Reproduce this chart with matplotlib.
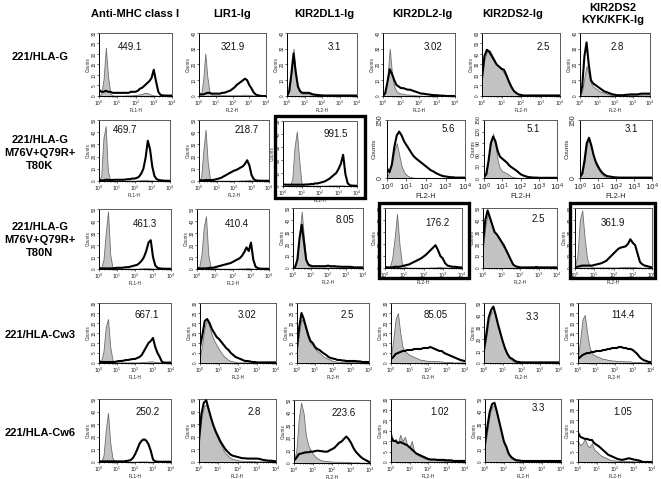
import matplotlib
matplotlib.use("Agg")
import matplotlib.pyplot as plt
from matplotlib.patches import Rectangle
from matplotlib.ticker import FixedLocator, LogLocator, NullFormatter

plt.rcParams['font.family'] = ['Liberation Sans', 'DejaVu Sans']

# ---------------- data ----------------
col_headers = ["Anti-MHC class I", "LIR1-Ig", "KIR2DL1-Ig", "KIR2DL2-Ig",
               "KIR2DS2-Ig", "KIR2DS2\nKYK/KFK-Ig"]
row_labels = ["221/HLA-G", "221/HLA-G\nM76V+Q79R+\nT80K", "221/HLA-G\nM76V+Q79R+\nT80N",
              "221/HLA-Cw3", "221/HLA-Cw6"]
x_labels = ["FL1-H", "FL2-H", "FL2-H", "FL2-H", "FL2-H", "FL2-H"]

mfi_r1 = ["449.1", "321.9", "3.1", "3.02", "2.5", "2.8"]
mfi_r2 = ["469.7", "218.7", "991.5", "5.6", "5.1", "3.1"]
mfi_r3 = ["461.3", "410.4", "8.05", "176.2", "2.5", "361.9"]
mfi_r4 = ["667.1", "3.02", "2.5", "85.05", "3.3", "114.4"]
mfi_r5 = ["250.2", "2.8", "223.6", "1.02", "3.3", "1.05"]

ymax_r1 = [30, 40, 40, 40, 60, 40]
ymax_r2 = [50, 50, 50, 150, 150, 150]
ymax_r3 = [50, 50, 50, 50, 50, 50]
ymax_r4 = [30, 30, 30, 30, 50, 30]
ymax_r5 = [50, 50, 50, 30, 50, 30]
ystep_r1 = [5, 10, 10, 10, 10, 10]
ystep_r2 = [10, 10, 10, 150, 30, 150]
ystep_r3 = [10, 10, 10, 10, 10, 10]
ystep_r4 = [5, 5, 5, 5, 10, 5]
ystep_r5 = [10, 10, 10, 5, 10, 5]

# log10 fluorescence channel positions of the histogram values
log_channels = [0, 0.125, 0.25, 0.375, 0.5, 0.625, 0.75, 0.875,
                1.0, 1.125, 1.25, 1.375, 1.5, 1.625, 1.75, 1.875,
                2.0, 2.125, 2.25, 2.375, 2.5, 2.625, 2.75, 2.875,
                3.0, 3.125, 3.25, 3.375, 3.5, 3.625, 3.75, 3.875, 4.0]

# control (grey filled) and stained (black line) histograms, row/column
g11 = [0,1,8,23,9,1,0.3,0.2, 0.2,0.2,0.2,0.2,0.3,0.3,0.3,0.4, 0.5,0.6,0.8,1,1.5,1.5,1,0.5, 0.3,0.2,0,0,0,0,0,0, 0]
b11 = [3,2,2,2.5,2,2,1.5,1.5, 1.5,1.5,1.5,1.5,1.5,1.5,2,2, 2,2.5,3.5,4,5,6,7,8.5, 12.5,7,2,0.5,0.3,0.2,0.2,0.2, 0.2]
g12 = [0,1,10,27,12,3,1,0.5, 0.5,0.5,0.5,0.5,0.5,0.5,0.5,0.5, 0.5,0.5,0.5,0.5,0.5,0.8,0.8,0.8, 0.5,0.5,0.3,0.2,0.2,0.2,0,0, 0]
b12 = [1.5,1,1,1.5,2,2,1.5,1.5, 1.5,1.5,1.5,2,2,2.5,3,3.5, 4.5,5.5,7,8,9,10,11,10, 7,5,2.5,1,0.5,0.2,0,0, 0]
g13 = [0,3,15,30,14,5,2.5,1.5, 1.5,1.5,1.5,1,0.8,0.5,0.4,0.3, 0.2,0.2,0.2,0.2,0.2,0.2,0.2,0.2, 0.2,0.2,0.2,0,0,0,0,0, 0]
b13 = [0,3,14,27,15,6,3,2, 2,2,2,1.5,1,0.8,0.6,0.5, 0.4,0.3,0.3,0.3,0.3,0.3,0.3,0.3, 0.3,0.3,0.3,0.3,0.3,0.3,0.3,0.3, 0.3]
g14 = [0,2,12,30,14,6,3,2, 1.5,1.5,1,1,0.8,0.6,0.5,0.4, 0.3,0.2,0.2,0.1,0.1,0.1,0.1,0.1, 0,0,0,0,0,0,0,0, 0]
b14 = [0,2,9,17,14,10,7,6, 5,5,4.5,4,4,3.5,3,2.5, 2,1.5,1.5,1.2,1,0.8,0.6,0.5, 0.5,0.3,0.2,0.2,0,0,0,0, 0]
g15 = [15,35,42,44,40,35,30,28, 25,22,18,12,8,5,3,1.5, 1,0.5,0.5,0.3,0.3,0.3,0.3,0.3, 0.3,0.3,0.3,0.3,0.3,0.3,0.3,0.3, 0.3]
b15 = [18,38,44,42,38,34,30,28, 26,25,20,14,9,5,3,1.5, 1,0.5,0.5,0.5,0.5,0.5,0.5,0.5, 0.5,0.5,0.5,0.5,0.5,0.5,0.5,0.5, 0.5]
g16 = [0,3,12,19,14,8,6,5, 4,3,2.5,2,1.5,1,0.8,0.5, 0.3,0.3,0.3,0.3,0.3,0.5,0.5,0.5, 0.5,0.8,0.8,0.8,0.8,1,1,1, 1]
b16 = [0,6,25,34,20,10,8,7, 6,5,4,3,2.5,2,1.5,1, 0.8,0.5,0.5,0.5,0.5,0.8,0.8,1, 1,1,1,1.2,1.5,1.5,1.5,1.5, 1.5]

g21 = [0,4,35,45,8,1,0.5,0.3, 0.3,0.3,0.3,0.3,0.3,0.3,0.3,0.3, 0.3,0.5,0.5,0.8,1,1,0.8,0.5, 0.5,0.3,0.3,0.2,0.2,0,0,0, 0]
b21 = [1,0.5,0.5,1,1,0.8,0.8,1, 1,1,1,1,1.2,1.5,1.5,2, 2,2.5,3.5,6,10,19,33,26, 12,4,1.5,0.8,0.5,0.3,0.2,0.2, 0.2]
g22 = [0,3,25,42,15,2,0.5,0.3, 0.3,0.3,0.3,0.3,0.3,0.3,0.3,0.3, 0.3,0.3,0.3,0.5,0.5,0.5,0.8,0.8, 0.5,0.3,0.3,0.2,0.2,0,0,0, 0]
b22 = [1,0.5,0.5,0.8,0.8,0.8,0.8,1, 1.5,2,2.5,3.5,4.5,5.5,6.5,7.5, 8.5,9,10,11,12,14,17,13, 5,1.5,0.5,0.3,0.2,0.2,0.2,0.2, 0.2]
g23 = [0,0,0,0.5,5,30,42,20, 2,0.5,0.3,0.3,0.3,0.3,0.3,0.3, 0.3,0.3,0.3,0.3,0.5,0.5,0.5,0.5, 0.5,0.5,0.5,0.3,0.2,0,0,0, 0]
b23 = [1.5,1,1,1,1,1,1,1, 1,1,1.2,1.2,1.5,1.5,2,2, 2.5,3,3.5,4.5,5.5,7,8.5,10, 13,17,24,9,2,0.5,0.3,0.2, 0.2]
g24 = [5,15,40,70,90,60,30,15, 8,4,2,1,0.5,0.5,0.5,0.5, 0.5,0.5,0.3,0.3,0.3,0.3,0.3,0.3, 0.3,0.3,0.3,0.3,0.3,0.3,0.3,0.3, 0.3]
b24 = [25,15,35,80,110,120,110,95, 85,75,65,56,50,45,40,35, 30,25,20,17,13,10,7,5, 4,3,2,2,1,1,1,1, 1]
g25 = [2,10,50,95,115,85,45,25, 18,15,12,8,4,2,1,0.5, 0.5,0.5,0.5,0.5,0.5,0.5,0.5,0.5, 0.5,0.5,0.5,0.5,0.5,0.5,0.5,0.5, 0.5]
b25 = [2,10,45,90,107,95,70,55, 50,45,40,33,28,24,20,15, 10,7,5,3,2,1.5,1,1, 0.5,0.5,0.5,0.5,0.5,0.5,0.5,0.5, 0.5]
g26 = [2,10,40,85,100,80,55,35, 25,15,8,4,2,1,0.5,0.5, 0.5,0.5,0.5,0.5,0.5,0.5,0.5,0.5, 0.5,0.5,0.5,0.5,0.5,0.5,0.5,0.5, 0.5]
b26 = [3,12,45,90,104,85,60,42, 30,20,13,8,5,4,3,2, 1.5,1.2,1,1,1,1,1,1, 1,1,1,1,1,1,1,1, 1]

g31 = [0,1,8,30,48,12,1.5,0.5, 0.3,0.3,0.3,0.3,0.3,0.3,0.3,0.3, 0.3,0.3,0.5,0.5,0.8,0.8,0.8,0.5, 0.5,0.3,0.2,0.2,0,0,0,0, 0]
b31 = [1,0.5,0.5,0.5,0.5,0.5,0.5,0.8, 1,1,1,1.2,1.5,1.5,2,2.5, 3,3.5,5,7,10,15,22,24, 10,3,1,0.5,0.3,0.2,0.2,0.2, 0.2]
g32 = [0,2,12,35,44,12,2,1, 0.8,0.5,0.3,0.3,0.3,0.3,0.3,0.3, 0.3,0.3,0.3,0.5,0.5,0.5,0.8,0.8, 0.5,0.3,0.3,0.2,0.2,0,0,0, 0]
b32 = [1,0.5,0.5,0.5,0.5,0.8,1,1, 1.5,2,2.5,3,3.5,4,4.5,5, 6,7,8,9,11,14,18,15, 22,8,2,0.8,0.3,0.2,0.2,0.2, 0.2]
g33 = [0,1,8,30,47,25,6,2, 1,0.5,0.5,0.5,0.5,0.5,0.5,0.5, 0.5,0.5,0.5,0.5,0.5,0.5,0.5,0.5, 0.5,0.5,0.5,0.3,0.3,0.3,0.3,0.3, 0.3]
b33 = [0,1,7,25,36,22,7,3, 2,1.5,1.5,1.5,1.5,1.5,1.5,1.5, 2,1.5,1.5,1.5,1.2,1.2,1,1, 1,1,1,0.8,0.5,0.5,0.5,0.5, 0.5]
g34 = [0,0,1,8,25,45,20,4, 1,0.5,0.3,0.3,0.3,0.3,0.3,0.3, 0.3,0.3,0.3,0.5,0.5,0.5,0.8,0.8, 0.5,0.5,0.3,0.3,0.2,0,0,0, 0]
b34 = [1,0.5,0.5,0.5,1,1,1,1.5, 2,2.5,3,4,5,6,7,8, 9.5,11,13,15,17,19,15,10, 8,4,2,1.5,1,1,0.8,0.5, 0.5]
g35 = [15,35,45,40,35,30,27,24, 20,17,14,10,6,3,1.5,0.5, 0.3,0.3,0.3,0.3,0.3,0.3,0.3,0.3, 0.3,0.3,0.3,0.3,0.3,0.3,0.3,0.3, 0.3]
b35 = [20,40,48,42,36,30,28,25, 22,19,15,11,7,3,1.5,1, 0.5,0.5,0.5,0.5,0.5,0.5,0.5,0.8, 0.5,0.5,0.5,0.5,0.5,0.5,0.5,0.5, 0.5]
g36 = [2,10,40,48,25,8,2,1, 0.5,0.5,0.5,0.5,0.5,0.5,0.5,0.5, 0.5,0.5,0.5,0.8,0.8,0.8,1,1, 0.8,0.8,0.5,0.5,0.3,0.3,0.3,0.3, 0.3]
b36 = [1,1,1.5,2,2,2,2,2, 2.5,3,3.5,4,5,6,8,10, 12,14,16,17,17.5,18,20,24, 21,19,12,5,3,2,1.5,1, 0.5]

g41 = [0,1,6,18,22,8,1.5,0.5, 0.3,0.3,0.3,0.3,0.3,0.3,0.3,0.3, 0.3,0.3,0.3,0.5,0.5,0.5,0.8,0.8, 0.8,0.5,0.5,0.3,0.2,0,0,0, 0]
b41 = [1,0.5,0.5,0.5,0.5,0.5,0.5,0.5, 0.8,1,1,1.2,1.5,1.5,1.8,2, 2,2.5,3,4,6,8,10,11, 12.5,8,5,3,0.5,0.2,0.2,0.2, 0.2]
g42 = [3,10,18,22,18,14,11,9, 7,5,3.5,2.5,1.5,1,0.8,0.5, 0.3,0.3,0.3,0.3,0.3,0.3,0.3,0.3, 0.3,0.3,0.3,0.3,0.3,0.3,0.3,0.3, 0.3]
b42 = [8,14,21,22,20,17,15,13, 12,10.5,9,7.5,6.5,5,4,3, 2.5,2,1.5,1,1,0.8,0.5,0.5, 0.3,0.3,0.3,0.3,0.3,0.3,0.3,0.3, 0.3]
g43 = [6,15,22,20,16,12,10,9, 7,6,5,4,3,2.5,2,1.5, 1,0.8,0.5,0.5,0.5,0.5,0.5,0.5, 0.5,0.5,0.5,0.5,0.5,0.5,0.5,0.5, 0.5]
b43 = [8,18,25,22,18,14,11,10, 8,7,6.5,5.5,4.7,4,3,2.5, 2.2,2,1.5,1.5,1.3,1.2,1,1, 1,1,1,0.8,0.8,0.5,0.5,0.5, 0.5]
g44 = [3,12,22,25,15,8,6,5, 4,3.5,3,2.5,2,1.5,1.5,1.2, 1,1,1,1,1,0.8,0.8,0.5, 0.5,0.5,0.5,0.3,0.3,0.3,0.3,0.3, 0.3]
b44 = [2,3,4.5,5,5.5,6,6,6.5, 6.5,6.5,7,7,7,7,7.5,7.5, 7.5,8,7.5,7,6.5,6,6,5, 4.5,4,3.5,3,2.5,2,1.5,1.2, 1]
g45 = [10,22,35,42,44,38,30,24, 17,12,7,4,2,1,0.5,0.3, 0.3,0.3,0.3,0.3,0.3,0.3,0.3,0.3, 0.3,0.3,0.3,0.3,0.3,0.3,0.3,0.3, 0.3]
b45 = [11,24,38,44,47,40,32,25, 18,12,7.5,4.5,3.5,2,1,0.8, 0.5,0.5,0.5,0.5,0.5,0.5,0.5,0.5, 0.5,0.5,0.5,0.5,0.5,0.5,0.5,0.5, 0.5]
g46 = [3,12,22,24,15,8,5,4, 3.5,3,2.5,2,2,1.5,1.5,1.2, 1.2,1,1,1,1,0.8,0.8,0.8, 0.5,0.5,0.5,0.5,0.3,0.3,0.3,0.3, 0.3]
b46 = [2,3,4,4.5,5,5,5.5,5.5, 6,6,6,6.5,6.5,7,7,7.5, 7.5,7.5,8,8,7.5,7.5,7,7, 6.5,5.5,4.5,3,2,1.3,1,0.5, 0.5]

g51 = [0,0.5,5,25,39,15,3,0.5, 0.3,0.3,0.3,0.3,0.3,0.3,0.3,0.3, 0.3,0.3,0.5,0.5,0.5,0.5,0.3,0.3, 0.3,0.2,0.2,0,0,0,0,0, 0]
b51 = [0.5,0.5,0.5,0.5,0.5,0.5,0.5,0.5, 0.5,0.5,0.5,0.5,0.8,1,1.5,3, 6,10,14.5,17,18,17,14,9, 2,0.5,0.3,0.2,0.2,0.2,0.2,0.2, 0.2]
g52 = [15,35,44,46,40,33,27,22, 18,14,10,7,5,3.5,2.5,2, 1.5,1,1,0.8,0.8,0.8,0.8,0.8, 0.5,0.5,0.5,0.5,0.5,0.5,0.5,0.5, 0.5]
b52 = [18,38,47,49,42,35,29,24, 20,16,13,10,8,6,5,4.5, 4,3.5,3,3,2.7,2.7,2.7,2.7, 2.7,2.5,2,1.5,1.3,1,1,0.8, 0.5]
g53 = [2,10,35,48,40,22,14,10, 7,5,3.6,2.5,2,1.5,1.5,1.2, 1.2,1,1,1,1,0.8,0.8,0.8, 0.5,0.5,0.5,0.5,0.3,0.3,0.3,0.3, 0.3]
b53 = [2,4,7,7.5,8,8.5,8.5,9, 9,9.5,9.8,9.5,9.3,9,9,10, 11,12,14,16,17,19,21,19, 16,12,9,7,5,3.5,2.5,1.5, 0.5]
g54 = [14,10,11,9,13,10,12,8, 7,10,5,4,3,2.5,2,1.5, 1.2,1,1,0.8,0.8,0.8,0.5,0.5, 0.5,0.5,0.5,0.3,0.3,0.3,0.3,0.3, 0.3]
b54 = [12,10,10,9,9.5,9,8.5,8, 7,6,5,4,3.5,3,2.5,2, 1.5,1.2,1.2,1.2,1,1,1,1, 0.8,0.8,0.8,0.5,0.5,0.5,0.5,0.5, 0.5]
g55 = [12,25,38,44,45,38,30,22, 15,10,6,3,2,1,0.8,0.5, 0.5,0.5,0.5,0.5,0.5,0.5,0.5,0.5, 0.5,0.5,0.5,0.5,0.5,0.5,0.5,0.5, 0.5]
b55 = [15,28,40,46,47,40,32,24, 16,12,6.5,4,2.6,1.5,1.3,1, 0.8,0.8,0.8,0.8,0.8,0.8,0.8,0.8, 0.8,0.8,0.8,0.8,0.8,0.8,0.8,0.8, 0.8]
g56 = [10,8,9,11,8,7,9,6, 5,4,3,2.5,2,1.5,1,0.8, 0.8,0.5,0.5,0.5,0.5,0.5,0.5,0.5, 0.3,0.3,0.3,0.3,0,0,0,0, 0]
b56 = [14,12,11.5,11,11,10.5,10.5,9, 8.2,7.5,6.5,5.5,4.5,3.5,3,2.5, 2,1.5,1.2,1,1.2,1.5,1.8,1.5, 1.2,1,0.8,0.5,0,0,0,0, 0]

ctrl = [[g11, g12, g13, g14, g15, g16],
        [g21, g22, g23, g24, g25, g26],
        [g31, g32, g33, g34, g35, g36],
        [g41, g42, g43, g44, g45, g46],
        [g51, g52, g53, g54, g55, g56]]
stain = [[b11, b12, b13, b14, b15, b16],
         [b21, b22, b23, b24, b25, b26],
         [b31, b32, b33, b34, b35, b36],
         [b41, b42, b43, b44, b45, b46],
         [b51, b52, b53, b54, b55, b56]]
mfis = [mfi_r1, mfi_r2, mfi_r3, mfi_r4, mfi_r5]
ymaxs = [ymax_r1, ymax_r2, ymax_r3, ymax_r4, ymax_r5]
ysteps = [ystep_r1, ystep_r2, ystep_r3, ystep_r4, ystep_r5]

# ---------------- layout (pixels) ----------------
W, H = 661, 479
boxes = [
    [(99, 33, 172, 96), (199, 33, 266, 96), (287, 33, 357, 96), (383, 33, 455, 96), (482, 33, 560, 96), (580, 33, 650, 96)],
    [(99, 120, 170, 181), (199, 120, 269, 181), (283, 121, 357, 186), (387, 120, 465, 178), (484, 120, 557, 178), (580, 120, 652, 178)],
    [(99, 209, 171, 269), (197, 209, 269, 269), (293, 208, 363, 268), (385, 208, 462, 268), (483, 208, 557, 268), (575, 208, 652, 268)],
    [(99, 303, 171, 363), (200, 303, 276, 363), (297, 303, 369, 363), (391, 303, 465, 363), (484, 303, 559, 363), (578, 303, 651, 363)],
    [(99, 399, 171, 462), (199, 399, 276, 462), (294, 400, 370, 463), (391, 399, 465, 462), (485, 399, 561, 462), (578, 399, 652, 462)],
]
mfi_pos = [
    [(0.43, 0.78), (0.50, 0.78), (0.68, 0.78), (0.69, 0.78), (0.78, 0.78), (0.53, 0.78)],
    [(0.37, 0.84), (0.68, 0.84), (0.71, 0.80), (0.78, 0.84), (0.68, 0.84), (0.72, 0.84)],
    [(0.64, 0.75), (0.55, 0.75), (0.74, 0.80), (0.68, 0.75), (0.74, 0.82), (0.49, 0.75)],
    [(0.66, 0.80), (0.62, 0.80), (0.70, 0.80), (0.60, 0.80), (0.64, 0.77), (0.62, 0.80)],
    [(0.68, 0.79), (0.72, 0.79), (0.66, 0.79), (0.66, 0.79), (0.70, 0.86), (0.61, 0.79)],
]
thick_frames = [(275, 116, 365, 198), (379, 203, 469, 278), (570, 203, 655, 278)]
big_font = {(1, 3): 5.0, (1, 4): 3.8, (1, 5): 5.0}

fig = plt.figure(figsize=(W / 100, H / 100), dpi=100)

xs = [10 ** v for v in log_channels]

for r in range(5):
    for c in range(6):
        x0, y0, x1, y1 = boxes[r][c]
        ax = fig.add_axes([x0 / W, 1 - y1 / H, (x1 - x0) / W, (y1 - y0) / H])
        big = (r, c) in big_font
        ax.fill_between(xs, 0, ctrl[r][c], facecolor='#c2c2c2', edgecolor='#6e6e6e', lw=0.6, zorder=2)
        ax.plot(xs, stain[r][c], color='black', lw=1.5, zorder=3)
        ax.set_xscale('log')
        ax.set_xlim(1, 1e4)
        ymax = ymaxs[r][c]
        step = ysteps[r][c]
        ax.set_ylim(0, ymax)
        ax.yaxis.set_major_locator(FixedLocator(list(range(0, ymax + 1, step))))
        ax.xaxis.set_major_locator(FixedLocator([1, 10, 100, 1000, 10000]))
        ax.xaxis.set_minor_locator(LogLocator(base=10, subs=range(2, 10)))
        ax.xaxis.set_minor_formatter(NullFormatter())
        ax.set_xticklabels(['$10^{0}$', '$10^{1}$', '$10^{2}$', '$10^{3}$', '$10^{4}$'])
        xfs = 5.3 if big else 3.3
        yfs = big_font[(r, c)] if big else 3.3
        ax.tick_params(axis='x', which='major', labelsize=xfs, length=1.8 if big else 1.4,
                       width=0.5, pad=0.6, colors='#222222', direction='out')
        ax.tick_params(axis='y', which='major', labelsize=yfs, length=1.8 if big else 1.4,
                       width=0.5, pad=0.4, colors='#222222', direction='out')
        ax.tick_params(axis='x', which='minor', length=0.9, width=0.4, colors='#222222')
        for lab in ax.get_yticklabels():
            lab.set_rotation(90)
            lab.set_va('center')
        ax.set_xlabel(x_labels[c], fontsize=xfs, labelpad=0.3, color='#222222')
        ax.set_ylabel('Counts', fontsize=min(yfs, 4.6), labelpad=0.4, color='#222222')
        for s in ('left', 'bottom'):
            ax.spines[s].set_color('black')
            ax.spines[s].set_linewidth(0.7)
        for s in ('top', 'right'):
            ax.spines[s].set_color('#5a5a5a')
            ax.spines[s].set_linewidth(0.7)
        fx, fy = mfi_pos[r][c]
        ax.text(fx, fy, mfis[r][c], transform=ax.transAxes, ha='center', va='center',
                fontsize=7, color='#111111')

for (x0, y0, x1, y1) in thick_frames:
    fig.patches.append(Rectangle((x0 / W, 1 - y1 / H), (x1 - x0) / W, (y1 - y0) / H,
                                 transform=fig.transFigure, fill=False, lw=2.4,
                                 edgecolor='black', zorder=10))

header_x = [135, 232, 324, 422, 513, 613]
for c, t in enumerate(col_headers):
    fig.text(header_x[c] / W, 1 - 14 / H, t, ha='center', va='center', fontsize=8,
             fontweight='bold', linespacing=1.25)

row_y = [57, 153, 240, 335, 433]
for r, t in enumerate(row_labels):
    fig.text(40 / W, 1 - row_y[r] / H, t, ha='center', va='center', fontsize=8,
             fontweight='bold', linespacing=1.35)

fig.savefig('out.png', dpi=100)
